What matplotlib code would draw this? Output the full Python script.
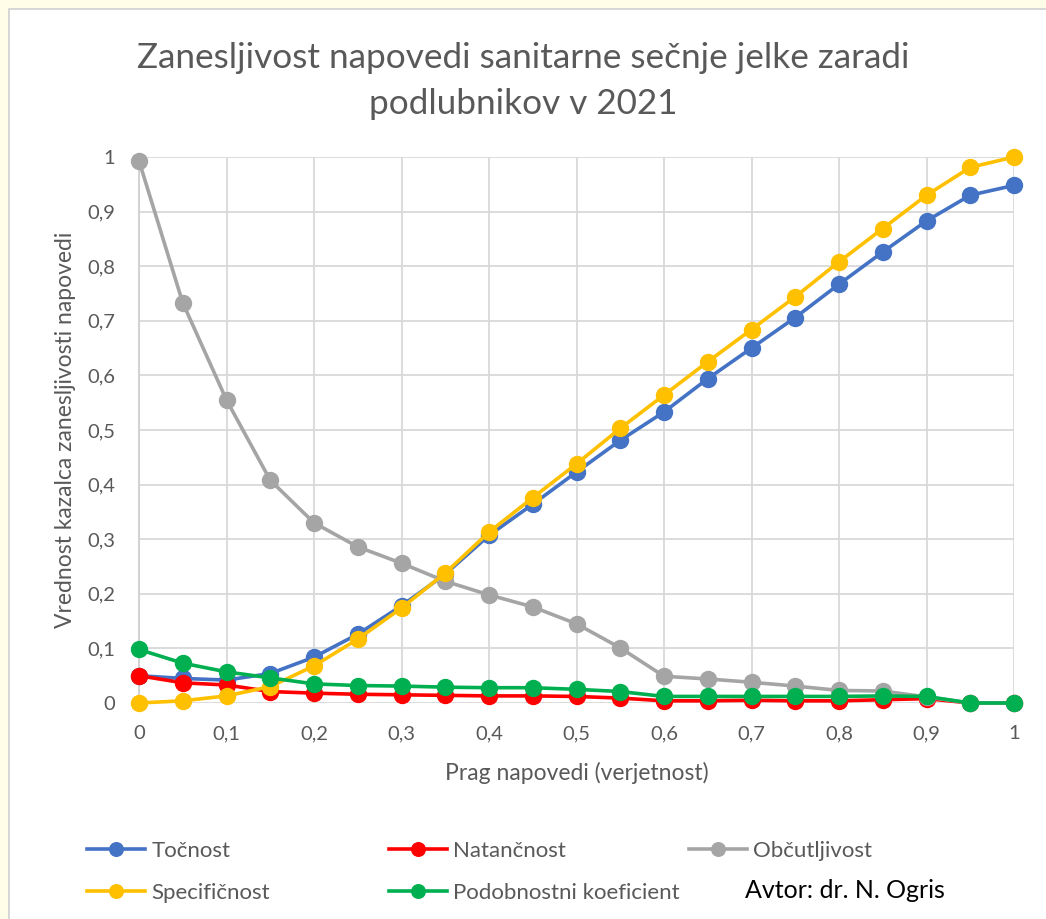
import matplotlib
matplotlib.use("Agg")
import matplotlib.pyplot as plt
from matplotlib.patches import Rectangle

plt.rcParams['font.family'] = ['Lato', 'DejaVu Sans']

# ------------------- podatki --------------------
prag = [0, 0.05, 0.1, 0.15, 0.2, 0.25, 0.3, 0.35, 0.4, 0.45, 0.5,
        0.55, 0.6, 0.65, 0.7, 0.75, 0.8, 0.85, 0.9, 0.95, 1]
tocnost = [0.05, 0.045, 0.042, 0.054, 0.084, 0.126, 0.178, 0.236, 0.307, 0.364, 0.423,
           0.481, 0.533, 0.594, 0.650, 0.706, 0.767, 0.826, 0.883, 0.930, 0.948]
natancnost = [0.05, 0.037, 0.033, 0.021, 0.018, 0.016, 0.015, 0.014, 0.013, 0.013, 0.012,
              0.009, 0.004, 0.004, 0.005, 0.004, 0.004, 0.006, 0.008, 0.0, 0.0]
obcutljivost = [0.993, 0.733, 0.555, 0.408, 0.33, 0.286, 0.256, 0.223, 0.198, 0.176, 0.145,
                0.101, 0.049, 0.044, 0.038, 0.031, 0.023, 0.022, 0.011, 0.0, 0.0]
specificnost = [0.0, 0.004, 0.013, 0.03, 0.068, 0.117, 0.174, 0.238, 0.313, 0.376, 0.438,
                0.503, 0.564, 0.625, 0.684, 0.744, 0.808, 0.869, 0.930, 0.981, 1.0]
podobnostni = [0.098, 0.073, 0.057, 0.046, 0.035, 0.032, 0.031, 0.029, 0.028, 0.028, 0.025,
               0.021, 0.012, 0.012, 0.012, 0.012, 0.012, 0.013, 0.012, 0.0, 0.0]

serije = [
    ("Točnost", tocnost, "#4472C4"),
    ("Natančnost", natancnost, "#FF0000"),
    ("Občutljivost", obcutljivost, "#A5A5A5"),
    ("Specifičnost", specificnost, "#FFC000"),
    ("Podobnostni koeficient", podobnostni, "#00B050"),
]
ticks = [0, 0.1, 0.2, 0.3, 0.4, 0.5, 0.6, 0.7, 0.8, 0.9, 1]
tick_labels = ['0', '0,1', '0,2', '0,3', '0,4', '0,5', '0,6', '0,7', '0,8', '0,9', '1']

siva = "#595959"

fig = plt.figure(figsize=(10.46, 9.19), dpi=100)
fig.patch.set_facecolor("#FFFDE8")
# belo ozadje grafa
fig.patches.append(Rectangle((9 / 1046, -0.01), 1.0, 1.01 - 9 / 919, transform=fig.transFigure,
                             facecolor="white", edgecolor="#D0D0D0", linewidth=1.2, zorder=-10))

ax = fig.add_axes([139 / 1046, 216 / 919, 875 / 1046, 546 / 919])
ax.set_facecolor("white")

handles = []
for ime, vrednosti, barva in serije:
    h, = ax.plot(prag, vrednosti, color=barva, lw=2.6, marker='o', ms=11.5,
                 label=ime, clip_on=False, zorder=3)
    handles.append(h)

ax.set_xlim(0, 1)
ax.set_ylim(0, 1)
ax.set_xticks(ticks)
ax.set_yticks(ticks)
ax.set_xticklabels(tick_labels)
ax.set_yticklabels(tick_labels)
ax.tick_params(length=0, labelsize=14.5, labelcolor=siva, pad=16)
ax.tick_params(axis='y', pad=17)
ax.grid(True, color="#D9D9D9", lw=1.3)
ax.set_axisbelow(True)
for s in ['top', 'right', 'bottom']:
    ax.spines[s].set_visible(False)
ax.spines['left'].set_color("#D0D0D0")
ax.spines['left'].set_linewidth(1.3)

ax.set_xlabel("Prag napovedi (verjetnost)", fontsize=16.5, color=siva, labelpad=14)
ax.set_ylabel("Vrednost kazalca zanesljivosti napovedi", fontsize=16.5, color=siva, labelpad=8)

fig.text(0.5, 1 - 81 / 919, "Zanesljivost napovedi sanitarne sečnje jelke zaradi\npodlubnikov v 2021",
         ha='center', va='center', fontsize=25.3, color=siva, linespacing=1.5)

# legenda - trije stolpci
stolpci = [[handles[0], handles[3]], [handles[1], handles[4]], [handles[2]]]
x_stolpci = [78 / 1046, 380 / 1046, 680 / 1046]
for hs, xs in zip(stolpci, x_stolpci):
    leg = fig.legend(handles=hs, loc='upper left', bbox_to_anchor=(xs, 1 - 832 / 919),
                     frameon=False, fontsize=16, handlelength=2.6, handletextpad=0.3,
                     labelspacing=1.0, borderaxespad=0, markerscale=0.85)
    for t in leg.get_texts():
        t.set_color(siva)

fig.text(745 / 1046, 1 - 891 / 919, "Avtor: dr. N. Ogris", ha='left', va='center',
         fontsize=18, color='black')

fig.savefig("out.png", dpi=100, facecolor=fig.get_facecolor())
